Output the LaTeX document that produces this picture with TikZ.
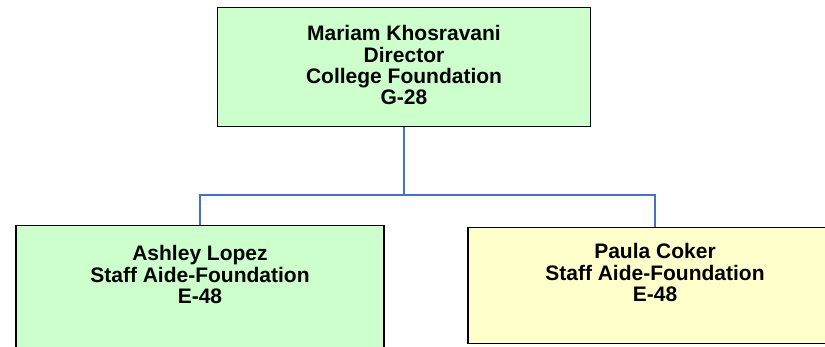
\documentclass[tikz,border=0pt]{standalone}
\usepackage{fontspec}
\setmainfont{Liberation Sans}
\usetikzlibrary{positioning}
\definecolor{boxgreen}{HTML}{CCFFCC}
\definecolor{boxyellow}{HTML}{FFFFCC}
\definecolor{linkblue}{HTML}{4472C4}

\begin{document}
\begin{tikzpicture}[x=1pt,y=-1pt,
                    org box/.style={rectangle,draw,line width=1.5pt,anchor=north,inner xsep=0pt,inner ysep=0pt,
                                    font=\fontsize{21}{21}\selectfont\bfseries},
                    link/.style={draw=linkblue,line width=1.6pt}
                   ]
  \useasboundingbox (0,0) rectangle (825,347);

  \node[org box,fill=boxgreen,minimum width=373pt,text height=33pt,text depth=86pt] (director) at (404,7)
    {\begin{tabular}[t]{c}Mariam Khosravani\\Director\\College Foundation\\G-28\end{tabular}};
  \node[org box,fill=boxgreen,minimum width=368pt,text height=35pt,text depth=92pt] (aide lopez) at (200,225)
    {\begin{tabular}[t]{c}Ashley Lopez\\Staff Aide-Foundation\\E-48\end{tabular}};
  \node[org box,fill=boxyellow,minimum width=374pt,text height=31pt,text depth=85pt] (aide coker) at (655,227)
    {\begin{tabular}[t]{c}Paula Coker\\Staff Aide-Foundation\\E-48\end{tabular}};

  \draw[link] (director.south) -- ++(0,67.5) -| (aide lopez.north);
  \draw[link] (director.south) -- ++(0,67.5) -| (aide coker.north);
\end{tikzpicture}
\end{document}
